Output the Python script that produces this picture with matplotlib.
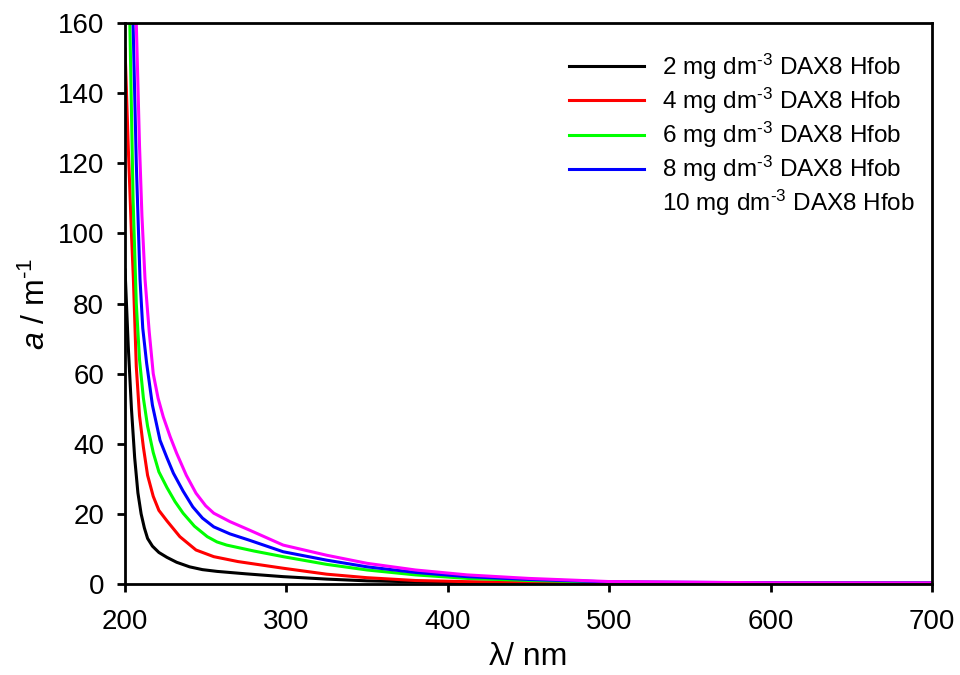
import matplotlib
matplotlib.use("Agg")
import matplotlib.pyplot as plt
from matplotlib.lines import Line2D

plt.rcParams['font.family'] = ['Liberation Sans', 'DejaVu Sans']
plt.rcParams['mathtext.fontset'] = 'custom'
plt.rcParams['mathtext.rm'] = 'Liberation Sans'
plt.rcParams['mathtext.it'] = 'Liberation Sans:italic'

labels = [r"2 mg dm$^{\text{-3}}$ DAX8 Hfob", r"4 mg dm$^{\text{-3}}$ DAX8 Hfob",
          r"6 mg dm$^{\text{-3}}$ DAX8 Hfob", r"8 mg dm$^{\text{-3}}$ DAX8 Hfob",
          r"10 mg dm$^{\text{-3}}$ DAX8 Hfob"]
colors = ["#000000", "#ff0000", "#00ff00", "#0000ff", "#ff00ff"]

wl_2 = [200, 202, 204, 206, 208, 210, 212, 214, 217, 221, 226, 232, 240, 248, 257,
        275, 298, 325, 350, 400, 450, 500, 600, 700]
a_2 = [90, 68, 50, 36, 26, 20, 16, 13, 10.8, 9, 7.6, 6.2, 4.9, 4.1, 3.6,
       2.9, 2.1, 1.4, 0.9, 0.45, 0.3, 0.25, 0.2, 0.2]

wl_4 = [200, 202, 204, 205.2, 207, 209, 211.4, 214, 217.5, 221, 226, 234, 244, 255,
        270, 298, 325, 350, 380, 412, 450, 500, 600, 700]
a_4 = [153, 125, 100, 87, 62, 48, 39, 31, 25, 21, 18, 13.5, 9.7, 7.8,
       6.4, 4.5, 2.8, 1.8, 1.0, 0.67, 0.45, 0.3, 0.25, 0.2]

wl_6 = [200, 203, 205, 207, 209, 211.4, 214, 217.5, 221, 226, 231, 236, 243, 251,
        257, 263, 280, 298, 325, 350, 380, 412, 450, 500, 600, 700]
a_6 = [220, 160, 110, 80, 64, 53, 45, 37.5, 32, 27.5, 23.5, 20.2, 16.5, 13.5,
       12, 11.1, 9.4, 7.8, 5.6, 4.0, 2.6, 1.6, 1.0, 0.5, 0.3, 0.25]

wl_8 = [200, 205, 207, 209.3, 211, 213.4, 217, 221.7, 226, 230, 236, 242, 248, 255,
        265, 277, 298, 325, 350, 380, 412, 450, 500, 600, 700]
a_8 = [260, 160, 120, 87, 73, 63, 51, 41, 36, 31.6, 26.5, 22, 18.8, 16.3,
       14.3, 12.5, 9.2, 6.8, 4.9, 3.3, 2.1, 1.3, 0.6, 0.35, 0.3]

wl_10 = [200, 207, 209, 210.5, 212.4, 215, 217.5, 220.5, 223.7, 228, 232, 238, 244,
         250, 255, 265, 277, 298, 325, 350, 380, 412, 450, 500, 600, 700]
a_10 = [300, 160, 125, 105, 87, 72, 60, 53, 47.7, 42, 37.3, 31, 25.9,
        22.3, 20.2, 17.8, 15.4, 11.1, 8.2, 5.9, 4.0, 2.6, 1.6, 0.7, 0.35, 0.3]

series = [(wl_2, a_2), (wl_4, a_4), (wl_6, a_6), (wl_8, a_8), (wl_10, a_10)]

fig = plt.figure(figsize=(9.6, 6.75), dpi=100)
ax = fig.add_axes([0.1302, 0.1348, 0.8406, 0.8311])

for (x, y), c in zip(series, colors):
    ax.plot(x, y, color=c, lw=2.2, solid_joinstyle='round', solid_capstyle='butt')

ax.set_xlim(200, 700)
ax.set_ylim(0, 160)
ax.set_xticks([200, 300, 400, 500, 600, 700])
ax.set_yticks(range(0, 161, 20))
ax.tick_params(axis='x', direction='out', length=6, width=2, labelsize=20,
               top=False, pad=12)
ax.tick_params(axis='y', direction='out', length=6, width=2, labelsize=20,
               right=False, pad=9)
for s in ax.spines.values():
    s.set_linewidth(2)

ax.set_xlabel("λ/ nm", fontsize=23, labelpad=5)
ax.set_ylabel(r"$a$ / m$^{\text{-1}}$", fontsize=23, labelpad=4)

handles = [Line2D([], [], color=c, lw=2.2) for c in colors[:4]]
handles.append(Line2D([], [], color='none', lw=2.2))
leg = ax.legend(handles, labels, loc='upper left', frameon=False, fontsize=17.5,
                handlelength=3.1, handletextpad=0.75, labelspacing=0.16,
                bbox_to_anchor=(0.538, 0.966), borderaxespad=0.0)

fig.savefig("out.png", dpi=100)
